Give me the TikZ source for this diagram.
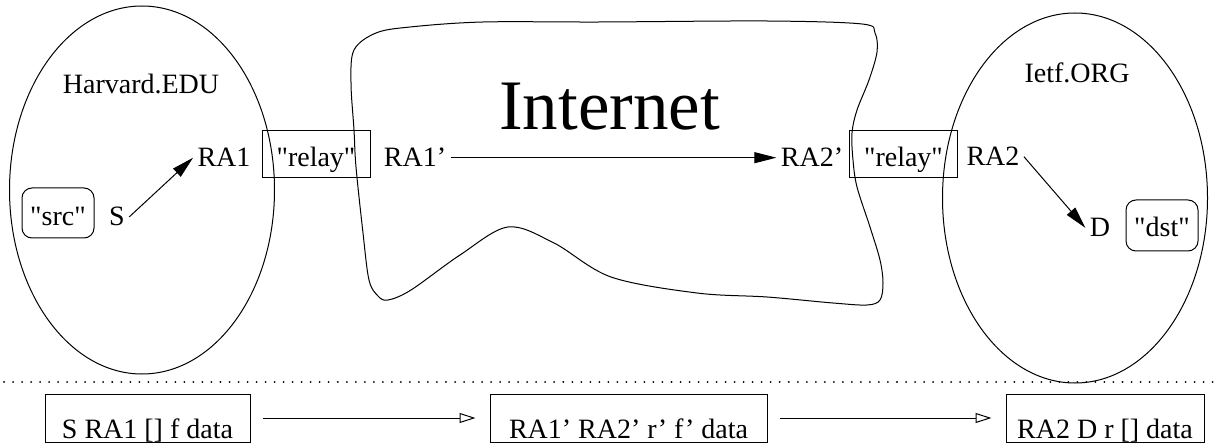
\documentclass[tikz,border=0pt]{standalone}
\usepackage{fontspec}
\setmainfont{Liberation Serif}[Ligatures=TeXOff]
\usetikzlibrary{arrows.meta}
\begin{document}
\begin{tikzpicture}[x=0.5pt,y=-0.5pt,line width=0.5pt,
  lbl/.style={inner sep=2pt,anchor=base,font=\fontsize{14}{16}\selectfont},
  relaybox/.style={draw,anchor=base,inner sep=0pt,minimum width=54pt,
    text height=18pt,text depth=5.5pt,font=\fontsize{14}{16}\selectfont},
  hostbox/.style={draw,rounded corners=5pt,anchor=base,inner sep=0pt,
    minimum width=36pt,font=\fontsize{14}{16}\selectfont},
  msgbox/.style={draw,anchor=base,inner sep=0pt,text height=22pt,
    text depth=2pt,font=\fontsize{14}{16}\selectfont},
  route/.style={-{Triangle[length=11pt,width=5.5pt]}},
  hop/.style={-{Triangle[open,length=8pt,width=5pt]},
    shorten <=6pt,shorten >=7pt},
  divider/.style={line width=1pt,dash pattern=on 0.01pt off 4.5pt,line cap=round}
]
\useasboundingbox (0,0) rectangle (1215,443);

% the two domains
\draw (142,190) ellipse [x radius=132.5, y radius=184];
\draw (1075,198) ellipse [x radius=132.5, y radius=185];

% the Internet cloud
\draw plot[smooth cycle, tension=0.55] coordinates {
  (354,50) (351,83) (354,130) (356,167) (363,233) (369,280) (378,296)
  (388,300) (411,290) (460,255) (508,227) (554,243) (611,277) (697,293)
  (767,297) (833,303) (867,305) (880,300) (883,283) (880,260) (870,227)
  (857,187) (853,160) (852,133) (857,110) (869,80) (877,52) (875,33)
  (862,24) (767,21) (600,22) (483,22) (410,27) (376,33)};

% labels
\node[lbl] (harv) at (141,94) {Harvard.EDU};
\node[lbl] (ietf) at (1077,83) {Ietf.ORG};
\node[anchor=base,inner sep=0pt,font=\fontsize{35.5}{38}\selectfont] (inet) at (609.5,130) {Internet};

\node[lbl] (ra1) at (224,167) {RA1};
\node[relaybox] (relay1) at (316,167) {"relay"};
\node[lbl] (ra1p) at (415,167) {RA1’};
\node[lbl] (ra2p) at (812,167) {RA2’};
\node[relaybox] (relay2) at (903.5,167) {"relay"};
\node[lbl] (ra2) at (993,166) {RA2};

\node[hostbox,text height=19pt,text depth=6pt] (src) at (58,226) {"src"};
\node[lbl] (s) at (117,226) {S};
\node[lbl] (d) at (1100,237) {D};
\node[hostbox,text height=18.5pt,text depth=7pt] (dst) at (1162,237) {"dst"};

% routes
\draw[route] (s.east) -- (ra1.west);
\draw[route] (ra1p.east) -- (ra2p.west);
\draw[route] (ra2.east) -- (d.west);

% separator
\coordinate (sepl) at (4,382);
\coordinate (sepr) at (1215,382);
\draw[divider] (sepl) -- (sepr);

% packet headers
\node[msgbox,minimum width=102.5pt] (m1) at (147.5,438) {S RA1 [] f data};
\node[msgbox,minimum width=138.5pt] (m2) at (628.5,438) {RA1’ RA2’ r’ f’ data};
\node[msgbox,minimum width=99pt] (m3) at (1105,438) {RA2 D r [] data};
\draw[hop] (m1) -- (m2);
\draw[hop] (m2) -- (m3);
\end{tikzpicture}
\end{document}
